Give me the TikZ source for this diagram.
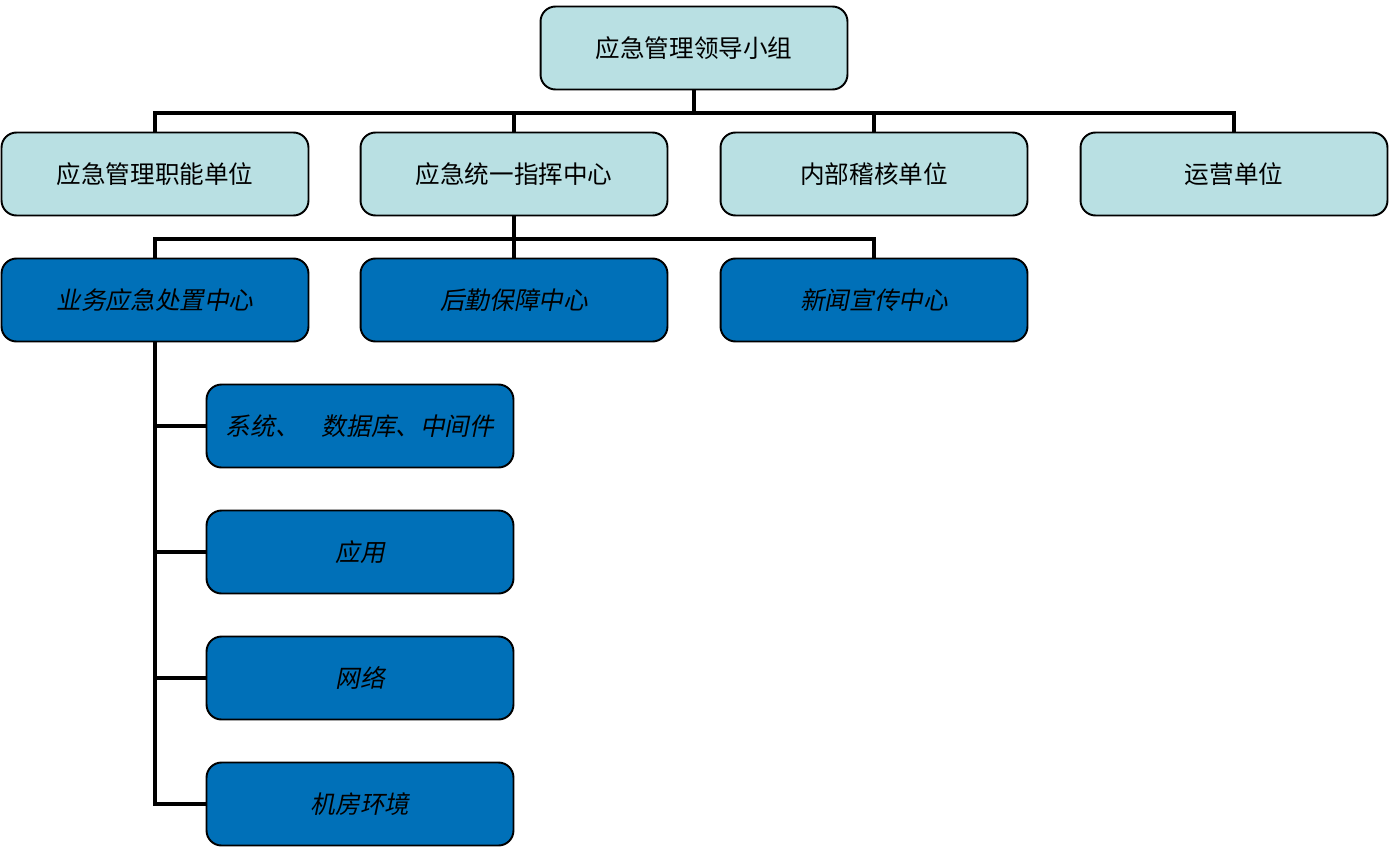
\documentclass[tikz,border=0pt]{standalone}
\usepackage{fontspec}
\usepackage{xcolor}
\usepackage{tikz}
\usetikzlibrary{positioning,calc}
\newfontfamily\cjk{Noto Sans CJK SC}
\newfontfamily\cjkit[FakeSlant=0.2]{Noto Sans CJK SC}
\definecolor{lightbox}{RGB}{185,224,227}
\definecolor{darkbox}{RGB}{0,112,184}

\begin{document}
\begin{tikzpicture}[
  x=0.02cm, y=-0.02cm,
  unit/.style={draw=black, line width=1.1pt, rounded corners=0.3cm, fill=lightbox,
    minimum width=6.14cm, minimum height=1.66cm, outer sep=0pt, inner sep=2pt,
    font=\cjk\fontsize{14}{16}\selectfont},
  center/.style={unit, fill=darkbox, font=\cjkit\fontsize{14}{16}\selectfont},
  link/.style={line width=2.3pt}
]
\useasboundingbox (0,0) rectangle (1389,849);

% leading group
\node[unit] (lead) at (694,48) {应急管理领导小组};

% second level
\node[unit] (func) at (155,174) {应急管理职能单位};
\node[unit] (cmd) at (514,174) {应急统一指挥中心};
\node[unit] (audit) at (874,174) {内部稽核单位};
\node[unit] (ops) at (1234,174) {运营单位};

% command centres
\node[center] (biz) at (155,300) {业务应急处置中心};
\node[center] (logi) at (514,300) {后勤保障中心};
\node[center] (news) at (874,300) {新闻宣传中心};

% teams
\node[center] (sys) at (360,426) {系统、\hspace{0.9em}数据库、中间件};
\node[center] (app) at (360,552) {应用};
\node[center] (net) at (360,678) {网络};
\node[center] (room) at (360,804) {机房环境};

\coordinate (bus1) at (694,113);
\coordinate (bus2) at (514,239);

\draw[link] (lead.south) -- (bus1);
\draw[link] (func.north) |- (bus1) -| (ops.north);
\draw[link] (cmd.north) -- (cmd.north |- bus1);
\draw[link] (audit.north) -- (audit.north |- bus1);

\draw[link] (cmd.south) -- (bus2);
\draw[link] (biz.north) |- (bus2) -| (news.north);
\draw[link] (logi.north) -- (bus2);

\draw[link] (biz.south) |- (room.west);
\draw[link] (biz.south |- sys.west) -- (sys.west);
\draw[link] (biz.south |- app.west) -- (app.west);
\draw[link] (biz.south |- net.west) -- (net.west);
\end{tikzpicture}
\end{document}
